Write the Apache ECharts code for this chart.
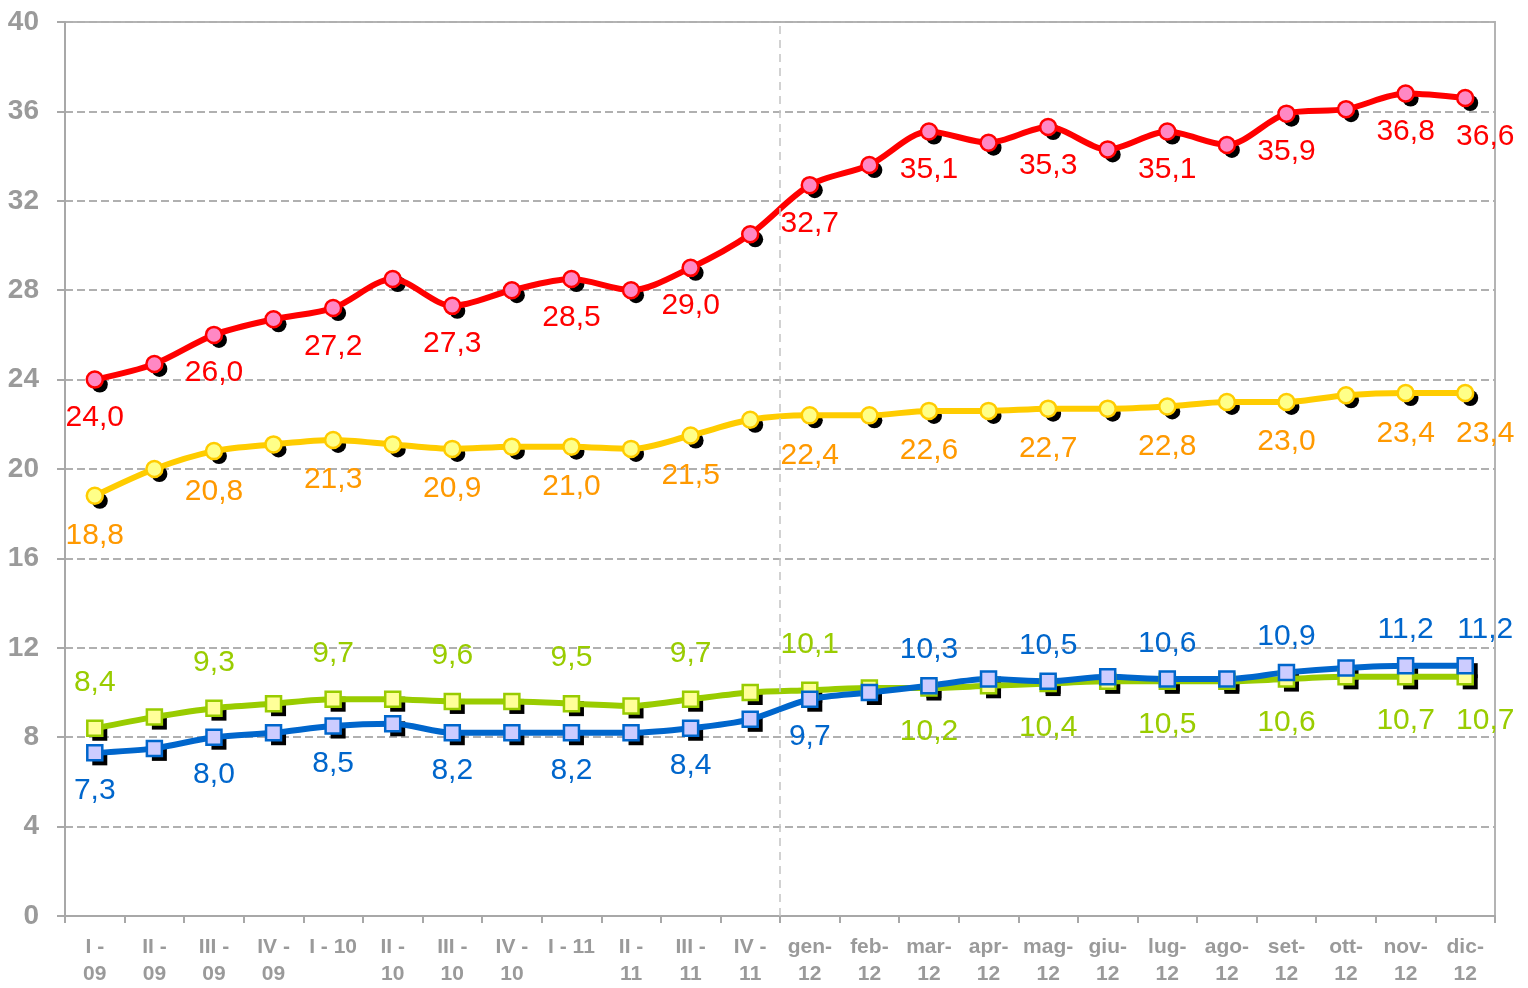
<!DOCTYPE html>
<html>
<head>
<meta charset="utf-8">
<title>Andamento trimestrale e mensile</title>
<script src="https://cdn.jsdelivr.net/npm/echarts@6/dist/echarts.min.js"></script>
<style>
  html, body { margin: 0; padding: 0; background: #fff; }
  #chart { width: 1528px; height: 988px; }
</style>
</head>
<body>
<div id="chart"></div>
<script>
// categorie (trimestri 2009-2011, poi mesi 2012)
const categories = [
  'I -\n09', 'II -\n09', 'III -\n09', 'IV -\n09',
  'I - 10', 'II -\n10', 'III -\n10', 'IV -\n10',
  'I - 11', 'II -\n11', 'III -\n11', 'IV -\n11',
  'gen-\n12', 'feb-\n12', 'mar-\n12', 'apr-\n12', 'mag-\n12', 'giu-\n12',
  'lug-\n12', 'ago-\n12', 'set-\n12', 'ott-\n12', 'nov-\n12', 'dic-\n12'
];
const yTicks = [0, 4, 8, 12, 16, 20, 24, 28, 32, 36, 40];
// separatore tra dati trimestrali e mensili (dopo 12 categorie)
const splitAt = 12;

const redValues = [24.0, 24.7, 26.0, 26.7, 27.2, 28.5, 27.3, 28.0, 28.5, 28.0, 29.0, 30.5,
  32.7, 33.6, 35.1, 34.6, 35.3, 34.3, 35.1, 34.5, 35.9, 36.1, 36.8, 36.6];
const yellowValues = [18.8, 20.0, 20.8, 21.1, 21.3, 21.1, 20.9, 21.0, 21.0, 20.9, 21.5, 22.2,
  22.4, 22.4, 22.6, 22.6, 22.7, 22.7, 22.8, 23.0, 23.0, 23.3, 23.4, 23.4];
const greenValues = [8.4, 8.9, 9.3, 9.5, 9.7, 9.7, 9.6, 9.6, 9.5, 9.4, 9.7, 10.0,
  10.1, 10.2, 10.2, 10.3, 10.4, 10.5, 10.5, 10.5, 10.6, 10.7, 10.7, 10.7];
const blueValues = [7.3, 7.5, 8.0, 8.2, 8.5, 8.6, 8.2, 8.2, 8.2, 8.2, 8.4, 8.8,
  9.7, 10.0, 10.3, 10.6, 10.5, 10.7, 10.6, 10.6, 10.9, 11.1, 11.2, 11.2];

const FONT = 'Liberation Sans, Arial, sans-serif';
const fmt = v => v.toFixed(1).replace('.', ',');

// etichetta solo sui punti pari e sull'ultimo (spostata un po' a destra)
const buildData = (values, placeLabel) => {
  const last = values.length - 1;
  return values.map((v, i) => ({
    value: v,
    label: Object.assign(
      { show: i % 2 === 0 || i === last, offset: i === last ? [20, 0] : [0, 0] },
      placeLabel(i)
    )
  }));
};

const makeSeries = (name, values, opt) => ({
  name: name,
  type: 'line',
  smooth: 0.3,
  data: buildData(values, opt.place),
  symbol: opt.symbol,
  symbolSize: opt.symbolSize,
  lineStyle: { color: opt.color, width: 6 },
  itemStyle: { color: opt.fill, borderColor: opt.color, borderWidth: 2.5 },
  label: {
    formatter: p => fmt(p.value),
    color: opt.labelColor,
    fontFamily: FONT,
    fontSize: 30
  },
  emphasis: { disabled: true },
  z: 3
});

// ombra nera dei marcatori, sotto le linee
const makeShadow = (values, symbol, size) => ({
  type: 'line',
  data: values,
  symbol: symbol,
  symbolSize: size,
  symbolOffset: [5, 5],
  showSymbol: true,
  lineStyle: { width: 0, opacity: 0 },
  itemStyle: { color: '#000', borderWidth: 0 },
  label: { show: false },
  silent: true,
  z: 1
});

const chart = echarts.init(document.getElementById('chart'));
const option = {
  animation: false,
  backgroundColor: '#fff',
  grid: {
    left: 65, right: 33, top: 22, bottom: 66,
    show: true,
    borderColor: '#b4b4b4',
    borderWidth: 2
  },
  xAxis: [{
    type: 'category',
    data: categories,
    boundaryGap: true,
    axisLine: { lineStyle: { color: '#a8a8a8', width: 2 } },
    axisTick: { show: true, length: 7, lineStyle: { color: '#a8a8a8', width: 2 } },
    axisLabel: {
      interval: 0,
      color: '#9a9a9a',
      fontWeight: 'bold',
      fontFamily: FONT,
      fontSize: 21,
      lineHeight: 27,
      margin: 18
    },
    splitLine: { show: false }
  }, {
    type: 'value',
    min: 0,
    max: categories.length,
    show: false
  }],
  yAxis: {
    type: 'value',
    min: yTicks[0],
    max: yTicks[yTicks.length - 1],
    interval: 4,
    axisLine: { show: true, lineStyle: { color: '#a8a8a8', width: 2 } },
    axisTick: { show: true, length: 8, lineStyle: { color: '#a8a8a8', width: 2 } },
    axisLabel: {
      color: '#9a9a9a',
      fontWeight: 'bold',
      fontFamily: FONT,
      fontSize: 28,
      margin: 26
    },
    splitLine: {
      lineStyle: { color: '#b0b0b0', width: 2, type: [8, 4] }
    }
  },
  series: [
    {
      type: 'line',
      xAxisIndex: 1,
      data: [],
      markLine: {
        silent: true,
        symbol: 'none',
        label: { show: false },
        lineStyle: { color: '#c4c4c4', width: 1.5, type: [8, 6] },
        data: [{ xAxis: splitAt }]
      },
      z: 0
    },
    makeShadow(redValues, 'circle', 16),
    makeShadow(yellowValues, 'circle', 16),
    makeShadow(greenValues, 'rect', 15),
    makeShadow(blueValues, 'rect', 15),
    makeSeries('rosso', redValues, {
      color: '#ff0000', fill: '#ff88c4', labelColor: '#ff0000',
      symbol: 'circle', symbolSize: 16,
      place: () => ({ position: 'bottom', distance: 14 })
    }),
    makeSeries('giallo', yellowValues, {
      color: '#ffcc00', fill: '#ffff88', labelColor: '#ff9900',
      symbol: 'circle', symbolSize: 16,
      place: () => ({ position: 'bottom', distance: 16 })
    }),
    makeSeries('verde', greenValues, {
      color: '#99cc00', fill: '#ffff99', labelColor: '#99cc00',
      symbol: 'rect', symbolSize: 15,
      place: i => (i <= 12 ? { position: 'top', distance: 22 } : { position: 'bottom', distance: 20 })
    }),
    makeSeries('blu', blueValues, {
      color: '#0066cc', fill: '#ccccff', labelColor: '#0066cc',
      symbol: 'rect', symbolSize: 15,
      place: i => (i <= 12 ? { position: 'bottom', distance: 14 } : { position: 'top', distance: 12 })
    })
  ]
};
chart.setOption(option);
</script>
</body>
</html>
